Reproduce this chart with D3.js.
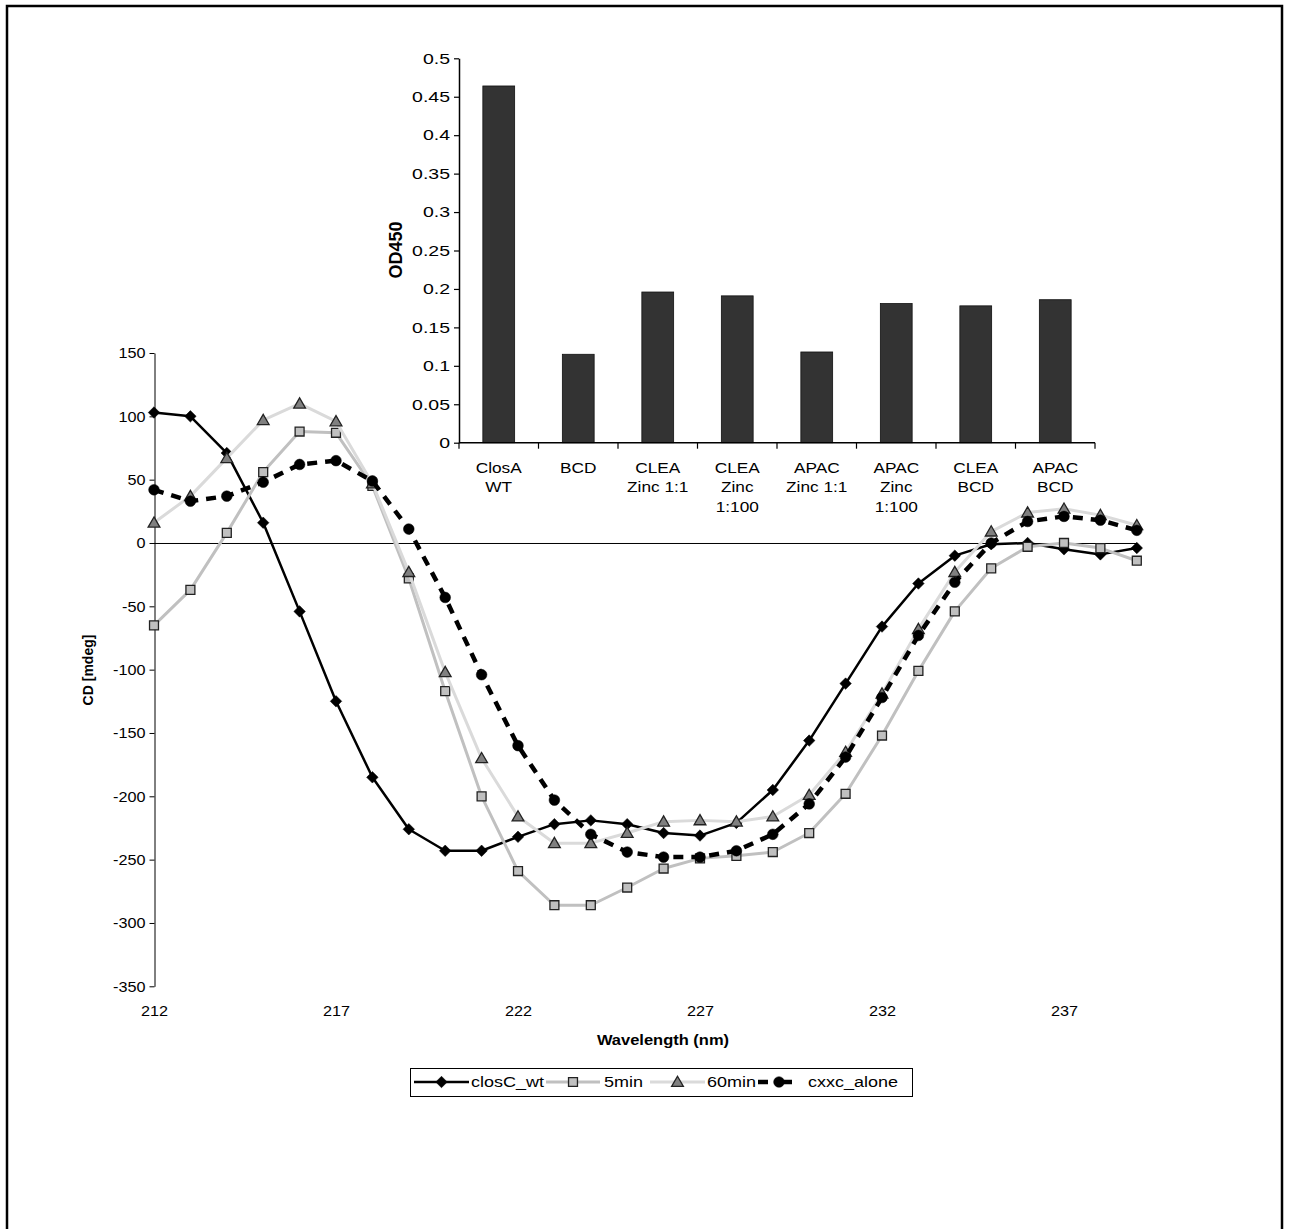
<!DOCTYPE html>
<html><head><meta charset="utf-8">
<script src="https://cdn.jsdelivr.net/npm/d3@7"></script>
<style>
body{margin:0;background:#fff}
svg{display:block}
text{font-family:Arial,"Liberation Sans",Helvetica,sans-serif;fill:#000}
</style>
</head><body>
<svg id="c" width="1289" height="1229"></svg>
<script>
// ---------- Line chart data ----------
const wavelengths = [212,213,214,215,216,217,218,219,220,221,222,223,224,225,226,227,228,229,230,231,232,233,234,235,236,237,238,239];
const closC_wt   = [103,100,71,16,-54,-125,-185,-226,-243,-243,-232,-222,-219,-222,-229,-231,-221,-195,-156,-111,-66,-32,-10,-1,0,-5,-9,-4];
const min5       = [-65,-37,8,56,88,87,45,-28,-117,-200,-259,-286,-286,-272,-257,-249,-247,-244,-229,-198,-152,-101,-54,-20,-3,0,-4,-14];
const min60      = [16,37,67,97,110,96,47,-23,-102,-170,-216,-237,-237,-229,-220,-219,-220,-216,-199,-165,-119,-68,-23,9,24,27,22,14];
const cxxc_alone = [42,33,37,48,62,65,49,11,-43,-104,-160,-203,-230,-244,-248,-248,-243,-230,-206,-169,-122,-73,-31,0,17,21,18,10];
const lineYTicks = [150,100,50,0,-50,-100,-150,-200,-250,-300,-350];
const lineXTicks = [212,217,222,227,232,237];
const seriesNames = ["closC_wt","5min","60min","cxxc_alone"];

// ---------- Bar chart data ----------
const barCategories = ["ClosA\nWT","BCD","CLEA\nZinc 1:1","CLEA\nZinc\n1:100","APAC\nZinc 1:1","APAC\nZinc\n1:100","CLEA\nBCD","APAC\nBCD"];
const barValues = [0.464,0.115,0.196,0.191,0.118,0.181,0.178,0.186];
const barYTicks = [0,0.05,0.1,0.15,0.2,0.25,0.3,0.35,0.4,0.45,0.5];

const svg = d3.select("#c");
const FONT = "Arial, Liberation Sans, sans-serif";

// horizontal stretch of a text element around its own x anchor
function stretch(sel, k){
  sel.each(function(){
    const t = d3.select(this);
    const x0 = +(t.attr("x")||0);
    t.attr("transform", `matrix(${k},0,0,1,${x0*(1-k)},0)`);
  });
}

// outer frame
svg.append("rect").attr("x",7).attr("y",6).attr("width",1275).attr("height",1240)
  .attr("fill","none").attr("stroke","#000").attr("stroke-width",2.5);

// ================= LINE CHART =================
const x = d3.scaleLinear().domain([212,239]).range([154,1136.8]);
const y = d3.scaleLinear().domain([-350,150]).range([986.3,353]);

const yAx = svg.append("g").attr("transform","translate(154.5,0)")
  .call(d3.axisLeft(y).tickValues(lineYTicks).tickSize(5).tickPadding(4).tickSizeOuter(0).tickFormat(d=>String(d)));
yAx.select(".domain").attr("stroke","#000").attr("stroke-width",1);
yAx.selectAll(".tick line").attr("stroke","#000");
yAx.selectAll("text").attr("font-size",15).attr("font-family",FONT);
stretch(yAx.selectAll("text"),1.08);

const xAx = svg.append("g").attr("transform","translate(0,1005)")
  .call(d3.axisBottom(x).tickValues(lineXTicks).tickSize(0).tickPadding(0).tickFormat(d=>String(d)));
xAx.select(".domain").remove();
xAx.selectAll("text").attr("font-size",15).attr("font-family",FONT);
stretch(xAx.selectAll("text"),1.08);

// zero line
svg.append("line").attr("x1",x(212)).attr("x2",x(239)).attr("y1",y(0)+0.5).attr("y2",y(0)+0.5)
  .attr("stroke","#000").attr("stroke-width",1);

// axis titles
const xt = svg.append("text").attr("x",663).attr("y",1045).attr("text-anchor","middle")
  .attr("font-size",15).attr("font-weight","bold").text("Wavelength (nm)");
stretch(xt,1.1);
svg.append("text").attr("transform","translate(93,670) rotate(-90)").attr("text-anchor","middle")
  .attr("font-size",14).attr("font-weight","bold").text("CD [mdeg]");

const styles = [
  {name:seriesNames[0], data:closC_wt, stroke:"#000", width:2.5, dash:null, marker:"diamond", fill:"#000", mstroke:"#000"},
  {name:seriesNames[1], data:min5, stroke:"#c0c0c0", width:3, dash:null, marker:"square", fill:"#c0c0c0", mstroke:"#222"},
  {name:seriesNames[2], data:min60, stroke:"#dadada", width:3, dash:null, marker:"triangle", fill:"#808080", mstroke:"#222"},
  {name:seriesNames[3], data:cxxc_alone, stroke:"#000", width:4.5, dash:"10,8", marker:"circle", fill:"#000", mstroke:"#000"}
];

function markerPath(type){
  if(type==="diamond") return d3.symbol().type(d3.symbolSquare).size(66)();
  if(type==="square") return d3.symbol().type(d3.symbolSquare).size(80)();
  if(type==="triangle") return d3.symbol().type(d3.symbolTriangle).size(60)();
  return d3.symbol().type(d3.symbolCircle).size(90)();
}
function drawMarker(g, s, cx, cy){
  const p = g.append("path").attr("d",markerPath(s.marker)).attr("fill",s.fill)
    .attr("stroke",s.mstroke).attr("stroke-width",s.marker==="circle"||s.marker==="diamond"?0.5:1.3);
  let t = `translate(${cx},${cy})`;
  if(s.marker==="diamond") t += " rotate(45)";
  if(s.marker==="triangle") t += " translate(0,1)";
  p.attr("transform",t);
}

const line = d3.line().x((d,i)=>x(wavelengths[i])).y(d=>y(d));
styles.forEach(s=>{
  const g = svg.append("g");
  const path = g.append("path").datum(s.data).attr("d",line).attr("fill","none")
    .attr("stroke",s.stroke).attr("stroke-width",s.width).attr("stroke-linejoin","round");
  if(s.dash) path.attr("stroke-dasharray",s.dash);
  s.data.forEach((v,i)=>drawMarker(g,s,x(wavelengths[i]),y(v)));
});

// legend
const lg = svg.append("g");
lg.append("rect").attr("x",410.5).attr("y",1068.5).attr("width",502).attr("height",28)
  .attr("fill","#fff").attr("stroke","#000").attr("stroke-width",1);
const legendItems = [
  {s:styles[0], x0:414, x1:469, tx:471},
  {s:styles[1], x0:546, x1:600, tx:604},
  {s:styles[2], x0:650, x1:705, tx:707},
  {s:styles[3], x0:758, x1:800, tx:808}
];
legendItems.forEach(it=>{
  const cy = 1082;
  const l = lg.append("line").attr("x1",it.x0).attr("x2",it.x1).attr("y1",cy).attr("y2",cy)
    .attr("stroke",it.s.stroke).attr("stroke-width",it.s.width);
  if(it.s.dash) l.attr("stroke-dasharray","10,14");
  drawMarker(lg,it.s,(it.x0+it.x1)/2,cy);
  const tt = lg.append("text").attr("x",it.tx).attr("y",cy+5).attr("font-size",15).text(it.s.name);
  stretch(tt,1.2);
});

// ================= BAR CHART =================
const bx = d3.scaleBand().domain(barCategories).range([459,1095]).paddingInner(0.6).paddingOuter(0.3);
const by = d3.scaleLinear().domain([0,0.5]).range([442.7,58.3]);

const byAx = svg.append("g").attr("transform","translate(459,0)")
  .call(d3.axisLeft(by).tickValues(barYTicks).tickSize(5).tickPadding(4).tickSizeOuter(0)
    .tickFormat(d=>String(+d.toFixed(2))));
byAx.select(".domain").attr("stroke","#000").attr("stroke-width",1.5);
byAx.selectAll(".tick line").attr("stroke","#000").attr("stroke-width",1.2);
byAx.selectAll("text").attr("font-size",15).attr("font-family",FONT);
stretch(byAx.selectAll("text"),1.3);

svg.selectAll("rect.bar").data(barValues).join("rect").attr("class","bar")
  .attr("x",(d,i)=>bx(barCategories[i])).attr("width",bx.bandwidth())
  .attr("y",d=>by(d)).attr("height",d=>by(0)-by(d))
  .attr("fill","#333").attr("stroke","#111").attr("stroke-width",0.8);

// category axis
const step = bx.step();
svg.append("line").attr("x1",459).attr("x2",1095).attr("y1",by(0)).attr("y2",by(0))
  .attr("stroke","#000").attr("stroke-width",1.5);
barCategories.concat(["_end"]).forEach((c,i)=>{
  const xx = 459 + i*step;
  svg.append("line").attr("x1",xx).attr("x2",xx).attr("y1",by(0)).attr("y2",by(0)+6)
    .attr("stroke","#000").attr("stroke-width",1.2);
});
barCategories.forEach(c=>{
  const cx = bx(c)+bx.bandwidth()/2;
  const t = svg.append("text").attr("text-anchor","middle").attr("font-size",15)
    .attr("x",cx).attr("y",473);
  c.split("\n").forEach((ln,j)=>{
    t.append("tspan").attr("x",cx).attr("dy",j===0?0:19.5).text(ln);
  });
  stretch(t,1.15);
});
svg.append("text").attr("transform","translate(402,250) rotate(-90)").attr("text-anchor","middle")
  .attr("font-size",18).attr("font-weight","bold").text("OD450");
</script>
</body></html>
